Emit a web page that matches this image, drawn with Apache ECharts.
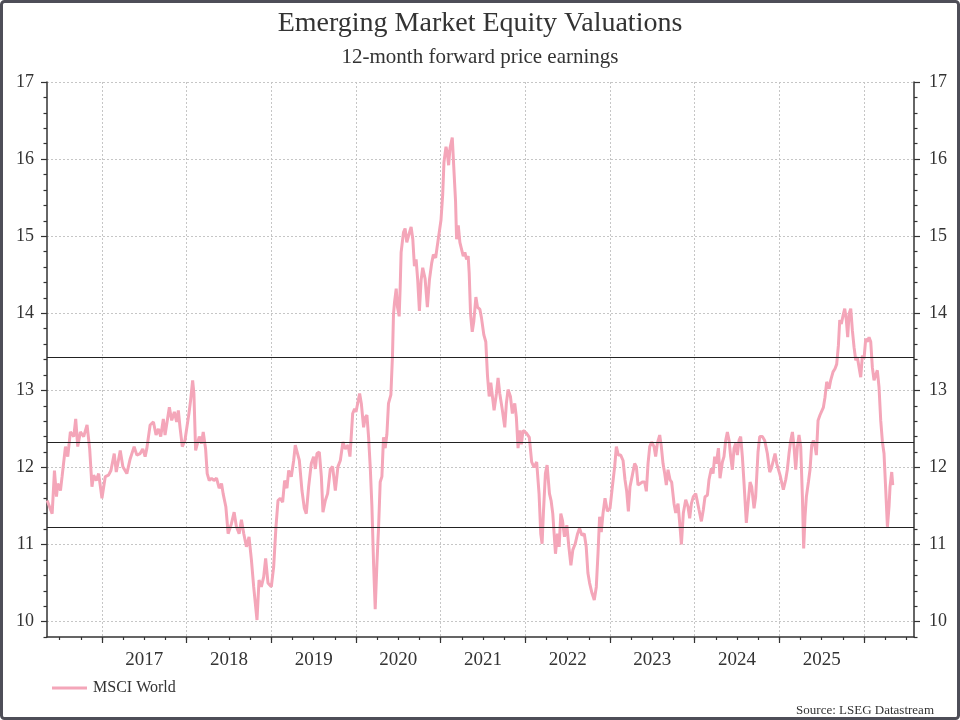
<!DOCTYPE html>
<html>
<head>
<meta charset="utf-8">
<title>Emerging Market Equity Valuations</title>
<script src="https://cdn.jsdelivr.net/npm/echarts@6.0.0/dist/echarts.min.js"></script>
<style>
  html, body { margin: 0; padding: 0; background: #fff; }
  #main { width: 960px; height: 720px; }
</style>
</head>
<body>
<div id="main"></div>
<script>
// 12m forward P/E (dates as decimal years)
var t2016 = [2016.353, 2016.412, 2016.439, 2016.463, 2016.478, 2016.510, 2016.529, 2016.569, 2016.596, 2016.627, 2016.667, 2016.690, 2016.714, 2016.745, 2016.784, 2016.824, 2016.855, 2016.882, 2016.902, 2016.933, 2016.961];
var pe2016 = [11.57, 11.40, 11.96, 11.62, 11.79, 11.70, 11.88, 12.27, 12.14, 12.46, 12.40, 12.63, 12.27, 12.46, 12.40, 12.55, 12.24, 11.75, 11.90, 11.83, 11.92];

var t2017 = [2017.000, 2017.039, 2017.078, 2017.106, 2017.145, 2017.169, 2017.216, 2017.247, 2017.294, 2017.333, 2017.380, 2017.412, 2017.451, 2017.482, 2017.510, 2017.529, 2017.569, 2017.608, 2017.639, 2017.667, 2017.694, 2017.725, 2017.745, 2017.796, 2017.824, 2017.855, 2017.882, 2017.902, 2017.922, 2017.949, 2017.980];
var pe2017 = [11.60, 11.88, 11.90, 11.96, 12.18, 11.94, 12.22, 12.01, 11.92, 12.11, 12.27, 12.16, 12.18, 12.24, 12.14, 12.24, 12.55, 12.59, 12.42, 12.50, 12.40, 12.63, 12.42, 12.78, 12.61, 12.72, 12.59, 12.74, 12.52, 12.27, 12.35];

var t2018 = [2018.000, 2018.027, 2018.047, 2018.071, 2018.086, 2018.106, 2018.125, 2018.149, 2018.176, 2018.196, 2018.224, 2018.243, 2018.267, 2018.294, 2018.322, 2018.353, 2018.384, 2018.412, 2018.431, 2018.463, 2018.490, 2018.529, 2018.561, 2018.588, 2018.620, 2018.647, 2018.675, 2018.706, 2018.737, 2018.765, 2018.792, 2018.831, 2018.855, 2018.882, 2018.910, 2018.933, 2018.961];
var pe2018 = [12.37, 12.70, 12.87, 13.13, 12.96, 12.22, 12.20, 12.40, 12.31, 12.46, 12.24, 11.92, 11.83, 11.86, 11.83, 11.86, 11.73, 11.79, 11.66, 11.49, 11.14, 11.27, 11.42, 11.23, 11.14, 11.32, 11.14, 10.97, 11.10, 10.80, 10.45, 10.02, 10.54, 10.45, 10.58, 10.82, 10.50];

var t2019 = [2019.000, 2019.028, 2019.055, 2019.079, 2019.106, 2019.134, 2019.157, 2019.185, 2019.205, 2019.236, 2019.264, 2019.283, 2019.303, 2019.331, 2019.362, 2019.390, 2019.413, 2019.441, 2019.472, 2019.500, 2019.520, 2019.539, 2019.567, 2019.591, 2019.610, 2019.638, 2019.665, 2019.697, 2019.724, 2019.756, 2019.787, 2019.815, 2019.846, 2019.874, 2019.906, 2019.929, 2019.961, 2019.984];
var pe2019 = [10.45, 10.71, 11.23, 11.57, 11.60, 11.55, 11.83, 11.73, 11.96, 11.88, 12.09, 12.29, 12.29, 12.09, 11.70, 11.47, 11.40, 11.75, 12.05, 12.14, 11.98, 12.18, 12.20, 11.88, 11.42, 11.57, 11.66, 11.98, 12.01, 11.70, 12.01, 12.09, 12.33, 12.24, 12.29, 12.14, 12.70, 12.76];

var t2020 = [2020.000, 2020.020, 2020.043, 2020.063, 2020.090, 2020.110, 2020.129, 2020.149, 2020.169, 2020.188, 2020.208, 2020.227, 2020.247, 2020.267, 2020.286, 2020.306, 2020.325, 2020.345, 2020.365, 2020.384, 2020.412, 2020.431, 2020.443, 2020.455, 2020.475, 2020.490, 2020.510, 2020.522, 2020.533, 2020.561, 2020.580, 2020.600, 2020.627, 2020.651, 2020.671, 2020.690, 2020.710, 2020.729, 2020.749, 2020.769, 2020.788, 2020.816, 2020.843, 2020.867, 2020.894, 2020.914, 2020.941, 2020.961, 2020.984];
var pe2020 = [12.72, 12.83, 12.96, 12.83, 12.52, 12.65, 12.68, 12.39, 11.99, 11.50, 10.74, 10.16, 10.74, 11.23, 11.81, 11.88, 12.39, 12.25, 12.43, 12.83, 12.94, 13.45, 13.99, 14.14, 14.32, 14.08, 13.96, 14.34, 14.79, 15.05, 15.10, 14.92, 15.03, 15.12, 14.96, 14.61, 14.70, 14.43, 14.03, 14.43, 14.59, 14.45, 14.08, 14.43, 14.65, 14.76, 14.72, 14.88, 14.90];

var t2021 = [2021.004, 2021.024, 2021.039, 2021.063, 2021.078, 2021.094, 2021.110, 2021.137, 2021.157, 2021.176, 2021.188, 2021.208, 2021.227, 2021.247, 2021.267, 2021.286, 2021.306, 2021.325, 2021.337, 2021.353, 2021.373, 2021.392, 2021.416, 2021.435, 2021.463, 2021.482, 2021.510, 2021.533, 2021.553, 2021.573, 2021.592, 2021.612, 2021.631, 2021.659, 2021.678, 2021.698, 2021.729, 2021.757, 2021.776, 2021.796, 2021.824, 2021.847, 2021.875, 2021.894, 2021.914, 2021.933, 2021.953, 2021.973];
var pe2021 = [15.21, 15.54, 15.96, 16.16, 16.08, 15.92, 16.14, 16.28, 15.85, 15.45, 14.96, 15.14, 14.92, 14.83, 14.74, 14.79, 14.70, 14.74, 14.52, 13.99, 13.76, 13.90, 14.21, 14.08, 14.05, 13.94, 13.72, 13.63, 13.19, 12.92, 13.10, 13.10, 12.74, 12.96, 13.16, 12.96, 12.74, 12.52, 12.83, 13.01, 12.92, 12.70, 12.83, 12.65, 12.25, 12.48, 12.30, 12.48];

var t2022 = [2022.016, 2022.047, 2022.075, 2022.103, 2022.134, 2022.162, 2022.182, 2022.198, 2022.213, 2022.237, 2022.257, 2022.285, 2022.304, 2022.324, 2022.340, 2022.356, 2022.379, 2022.399, 2022.419, 2022.439, 2022.462, 2022.490, 2022.514, 2022.538, 2022.561, 2022.589, 2022.617, 2022.640, 2022.668, 2022.696, 2022.719, 2022.739, 2022.759, 2022.787, 2022.814, 2022.838, 2022.858, 2022.877, 2022.897, 2022.917, 2022.941, 2022.969];
var pe2022 = [12.44, 12.39, 12.07, 12.00, 12.07, 11.66, 11.14, 11.01, 11.40, 11.92, 12.03, 11.66, 11.57, 11.40, 11.14, 10.88, 11.14, 10.97, 11.40, 11.31, 11.10, 11.25, 10.97, 10.73, 10.93, 11.01, 11.14, 11.21, 11.12, 11.14, 10.97, 10.63, 10.50, 10.37, 10.28, 10.45, 10.88, 11.36, 11.16, 11.40, 11.60, 11.43];

var t2023 = [2023.000, 2023.028, 2023.055, 2023.075, 2023.098, 2023.126, 2023.154, 2023.177, 2023.197, 2023.217, 2023.236, 2023.264, 2023.291, 2023.311, 2023.331, 2023.354, 2023.382, 2023.409, 2023.429, 2023.449, 2023.469, 2023.492, 2023.520, 2023.539, 2023.559, 2023.587, 2023.606, 2023.626, 2023.646, 2023.665, 2023.685, 2023.709, 2023.728, 2023.756, 2023.776, 2023.803, 2023.827, 2023.843, 2023.866, 2023.894, 2023.921, 2023.941, 2023.961, 2023.984];
var pe2023 = [11.47, 11.75, 12.01, 12.27, 12.16, 12.16, 12.09, 11.84, 11.69, 11.43, 11.75, 11.90, 12.05, 12.01, 11.77, 11.75, 11.81, 11.81, 11.69, 12.05, 12.27, 12.33, 12.27, 12.14, 12.31, 12.42, 12.27, 12.05, 11.92, 11.77, 11.97, 11.84, 11.81, 11.53, 11.41, 11.53, 11.23, 11.00, 11.41, 11.58, 11.49, 11.34, 11.53, 11.62];

var t2024 = [2024.012, 2024.031, 2024.051, 2024.079, 2024.102, 2024.122, 2024.150, 2024.169, 2024.197, 2024.217, 2024.236, 2024.256, 2024.280, 2024.299, 2024.327, 2024.346, 2024.366, 2024.386, 2024.406, 2024.425, 2024.445, 2024.465, 2024.484, 2024.504, 2024.524, 2024.543, 2024.563, 2024.583, 2024.610, 2024.630, 2024.654, 2024.673, 2024.701, 2024.720, 2024.748, 2024.768, 2024.799, 2024.827, 2024.858, 2024.886, 2024.906, 2024.929, 2024.949, 2024.969, 2024.988];
var pe2024 = [11.66, 11.56, 11.45, 11.30, 11.45, 11.62, 11.64, 11.84, 11.99, 11.92, 12.14, 12.05, 12.25, 11.86, 12.07, 12.14, 12.35, 12.46, 12.35, 12.14, 11.97, 12.25, 12.31, 12.16, 12.35, 12.40, 12.14, 11.79, 11.28, 11.53, 11.81, 11.75, 11.47, 11.62, 12.20, 12.40, 12.40, 12.35, 12.18, 11.94, 11.99, 12.09, 12.18, 12.05, 12.07];

var t2025 = [2025.008, 2025.024, 2025.047, 2025.075, 2025.094, 2025.114, 2025.134, 2025.154, 2025.173, 2025.193, 2025.213, 2025.232, 2025.252, 2025.272, 2025.287, 2025.303, 2025.319, 2025.343, 2025.362, 2025.382, 2025.402, 2025.421, 2025.437, 2025.457, 2025.480, 2025.500, 2025.520, 2025.539, 2025.559, 2025.587, 2025.606, 2025.634, 2025.657, 2025.677, 2025.697, 2025.713, 2025.732, 2025.752, 2025.772, 2025.791, 2025.807, 2025.823, 2025.843, 2025.862, 2025.882, 2025.902, 2025.921, 2025.941, 2025.961, 2025.980];
var pe2025 = [11.90, 11.92, 11.71, 11.84, 11.97, 12.18, 12.35, 12.46, 12.27, 11.97, 12.27, 12.42, 12.27, 11.62, 10.95, 11.36, 11.62, 11.81, 11.97, 12.29, 12.35, 12.27, 12.16, 12.61, 12.68, 12.70, 12.78, 12.91, 13.11, 13.02, 13.13, 13.24, 13.28, 13.34, 13.58, 13.91, 13.86, 13.97, 14.06, 13.91, 13.69, 13.99, 14.06, 13.78, 13.56, 13.39, 13.43, 13.41, 13.17, 13.45];

var t2026 = [2026.000, 2026.020, 2026.039, 2026.059, 2026.079, 2026.098, 2026.118, 2026.138, 2026.157, 2026.177, 2026.197, 2026.217, 2026.236, 2026.256, 2026.276, 2026.295, 2026.307, 2026.327, 2026.339];
var pe2026 = [13.41, 13.67, 13.63, 13.69, 13.63, 13.30, 13.13, 13.15, 13.26, 13.04, 12.61, 12.33, 12.18, 11.71, 11.23, 11.49, 11.75, 11.94, 11.77];

// mean and +/- 1 std dev lines
var bandLines = [13.43, 12.33, 11.22];

// tick labels
var yearLabels = [2017, 2018, 2019, 2020, 2021, 2022, 2023, 2024, 2025];
var yearTicks = [2017, 2018, 2019, 2020, 2021, 2022, 2023, 2024, 2025, 2026];
var yTicks = [10, 11, 12, 13, 14, 15, 16, 17];

var xMin = 2016.351, xMax = 2026.59;
var yMin = 9.8, yMax = 17;

var tList = [t2016, t2017, t2018, t2019, t2020, t2021, t2022, t2023, t2024, t2025, t2026];
var peList = [pe2016, pe2017, pe2018, pe2019, pe2020, pe2021, pe2022, pe2023, pe2024, pe2025, pe2026];
var points = [];
for (var i = 0; i < tList.length; i++) {
    for (var j = 0; j < tList[i].length; j++) {
        points.push([tList[i][j], peList[i][j]]);
    }
}

// minor ticks: quarters on x, 0.2 steps on y
var quarterTicks = [];
for (var q = 2016.5; q < xMax; q += 0.25) quarterTicks.push(q);
var yMinor = [];
for (var k = 49; k <= 85; k++) { if (k % 5 !== 0) yMinor.push(k / 5); }

var serif = "'Liberation Serif', 'DejaVu Serif', serif";
var ink = '#333';
var pink = '#f4a6b9';
var grid = '#c6c6c6';

function xAx(ticks, len, main) {
    return {
        type: 'value', min: xMin, max: xMax, position: 'bottom',
        axisLine: { show: main, onZero: false, lineStyle: { color: ink, width: 1.5 } },
        axisTick: { show: true, customValues: ticks, length: len, lineStyle: { color: ink, width: 1.2 } },
        axisLabel: main ? {
            show: true,
            customValues: yearLabels.map(function (y) { return y + 0.5; }),
            formatter: function (v) { return String(Math.floor(v)); },
            fontFamily: serif, fontSize: 19, color: ink, margin: 14
        } : { show: false },
        splitLine: { show: main, lineStyle: { color: grid, width: 1, type: [2, 2] } },
        axisPointer: { show: false }
    };
}

function yAx(side, ticks, len, main, split) {
    return {
        type: 'value', min: yMin, max: yMax, position: side,
        axisLine: { show: main, onZero: false, lineStyle: { color: ink, width: 1.5 } },
        axisTick: { show: true, customValues: ticks, length: len, lineStyle: { color: ink, width: 1.2 } },
        axisLabel: main ? {
            show: true, customValues: yTicks,
            fontFamily: serif, fontSize: 18, color: ink, margin: side === 'left' ? 13 : 15
        } : { show: false },
        splitLine: { show: split, lineStyle: { color: grid, width: 1, type: [2, 2] } }
    };
}

var chart = echarts.init(document.getElementById('main'));
var option = {
    animation: false,
    backgroundColor: '#fff',
    title: [
        {
            text: 'Emerging Market Equity Valuations',
            left: 'center', top: 10, padding: 0,
            textStyle: { fontFamily: serif, fontSize: 28, fontWeight: 'normal', color: ink }
        },
        {
            text: '12-month forward price earnings',
            left: 'center', top: 47, padding: 0,
            textStyle: { fontFamily: serif, fontSize: 21, fontWeight: 'normal', color: ink }
        }
    ],
    legend: {
        data: [{ name: 'MSCI World', icon: 'rect' }],
        left: 52, top: 680, padding: 0,
        itemWidth: 35, itemHeight: 3,
        itemStyle: { color: pink },
        textStyle: { fontFamily: serif, fontSize: 16, color: ink, padding: [0, 0, 0, 1] }
    },
    grid: { left: 47, right: 46, top: 82, bottom: 83, containLabel: false, outerBoundsMode: 'none' },
    xAxis: [xAx(yearTicks, 6, true), xAx(quarterTicks, 3, false)],
    yAxis: [
        yAx('left', yTicks, 6, true, true),
        yAx('left', yMinor, 3.5, false, false),
        yAx('right', yTicks, 6, true, false),
        yAx('right', yMinor, 3.5, false, false)
    ],
    series: [
        {
            name: 'MSCI World',
            type: 'line',
            xAxisIndex: 0,
            yAxisIndex: 0,
            data: points,
            symbol: 'none',
            showSymbol: false,
            lineStyle: { color: pink, width: 3 },
            itemStyle: { color: pink },
            markLine: {
                silent: true,
                symbol: 'none',
                label: { show: false },
                lineStyle: { color: '#222', width: 1.2, type: 'solid' },
                data: bandLines.map(function (v) { return { yAxis: v }; })
            }
        }
    ],
    graphic: [
        {
            type: 'rect', silent: true,
            shape: { x: 1.5, y: 1.5, width: 957, height: 717, r: 3 },
            style: { fill: 'none', stroke: '#4e4e58', lineWidth: 3 }
        },
        {
            type: 'text', right: 26, top: 704, silent: true,
            style: { text: 'Source: LSEG Datastream', fontFamily: serif, fontSize: 13, fill: ink }
        }
    ]
};
chart.setOption(option);
</script>
</body>
</html>
